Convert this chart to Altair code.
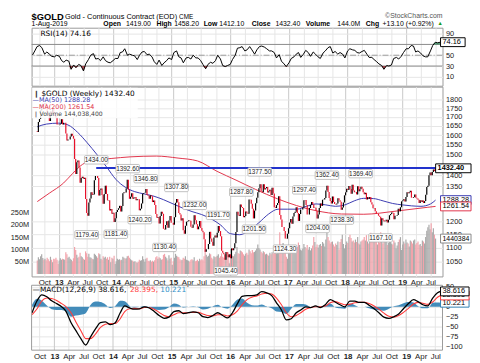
import altair as alt
import pandas as pd
import numpy as np

W = 418
H_RSI, H_PX, H_MACD = 59, 193, 66
GAP = 8          # label strip between price panel and MACD frame
FONT = "Liberation Sans"
LFONT = "DejaVu Sans"

# ---------------- weekly closes (Fridays, from 2012-08-17) ----------------
close_2012 = [1616, 1671, 1688,
              1737, 1770, 1776, 1773,
              1781, 1758, 1724, 1712,
              1677, 1731, 1714, 1752, 1713,
              1705, 1697, 1657, 1656]
close_2013 = [1657, 1662, 1687, 1658,
              1667, 1667, 1609, 1572,
              1577, 1577, 1592, 1607, 1596,
              1581, 1477, 1405, 1462,
              1470, 1436, 1365, 1387, 1393,
              1383, 1388, 1293, 1234,
              1223, 1278, 1295, 1323,
              1310, 1313, 1377, 1396, 1396,
              1387, 1308, 1333, 1339,
              1310, 1273, 1315, 1352,
              1315, 1287, 1288, 1244, 1251,
              1231, 1235, 1198, 1213]
close_2014 = [1238, 1247, 1254, 1264, 1240,
              1263, 1318, 1323, 1321,
              1339, 1379, 1334, 1294,
              1303, 1318, 1294, 1300,
              1302, 1288, 1293, 1292, 1245,
              1252, 1274, 1316, 1319,
              1320, 1337, 1310, 1307,
              1294, 1309, 1305, 1280, 1287,
              1267, 1230, 1215, 1218,
              1192, 1222, 1239, 1231, 1171,
              1168, 1186, 1201, 1175,
              1204, 1222, 1195, 1195]
close_2015 = [1187, 1217, 1277, 1293, 1279,
              1234, 1228, 1204, 1213,
              1165, 1152, 1183, 1199,
              1201, 1205, 1203, 1179,
              1175, 1188, 1225, 1205, 1189,
              1169, 1180, 1202, 1174,
              1163, 1157, 1131, 1085, 1094,
              1094, 1113, 1159, 1134,
              1121, 1107, 1137, 1145,
              1137, 1156, 1182, 1162, 1142,
              1088, 1081, 1076, 1056,
              1084, 1075, 1065, 1076]
close_2016 = [1061, 1097, 1090, 1097, 1116,
              1158, 1239, 1227, 1222,
              1270, 1259, 1255, 1217,
              1222, 1240, 1235, 1231, 1291,
              1290, 1273, 1252, 1212,
              1244, 1275, 1299, 1323,
              1340, 1358, 1327, 1323, 1358,
              1335, 1340, 1346, 1321,
              1327, 1334, 1310, 1343, 1317,
              1258, 1255, 1267, 1276,
              1305, 1226, 1208, 1178,
              1178, 1162, 1134, 1133, 1152]
close_2017 = [1173, 1196, 1210, 1191,
              1220, 1234, 1239, 1258,
              1234, 1202, 1230, 1249, 1249,
              1257, 1288, 1289, 1268,
              1228, 1228, 1255, 1268,
              1280, 1271, 1255, 1256, 1242,
              1212, 1228, 1255, 1274,
              1264, 1290, 1291, 1297,
              1330, 1351, 1324, 1297, 1284,
              1274, 1304, 1280, 1272,
              1270, 1274, 1296, 1288,
              1281, 1248, 1257, 1278, 1309]
close_2018 = [1322, 1338, 1333, 1350,
              1337, 1316, 1356, 1330,
              1323, 1324, 1313, 1349, 1327,
              1336, 1347, 1338, 1323,
              1314, 1320, 1291, 1301,
              1294, 1302, 1279, 1270, 1254,
              1255, 1241, 1231, 1231,
              1223, 1219, 1184, 1213, 1206,
              1200, 1201, 1207, 1196,
              1207, 1225, 1230, 1236,
              1234, 1209, 1223, 1223, 1226,
              1252, 1241, 1258, 1283]
close_2019 = [1287, 1292, 1282, 1302,
              1322, 1318, 1322, 1329,
              1299, 1298, 1302, 1313, 1298,
              1295, 1290, 1276, 1288,
              1281, 1287, 1276, 1284, 1311,
              1346, 1352, 1400, 1413,
              1400, 1415, 1427, 1419,
              1432.4]
first_open = 1620

# ---------------- weekly volume, millions ----------------
vol_2012 = [55, 68, 60,
            72, 80, 65, 58,
            62, 56, 66, 60,
            52, 70, 58, 48, 62,
            60, 66, 58, 42]
vol_2013 = [55, 64, 58, 62,
            60, 58, 88, 80,
            66, 70, 62, 58, 52,
            64, 110, 98, 78,
            66, 70, 86, 72, 68,
            62, 58, 92, 84,
            70, 82, 68, 66,
            62, 60, 82, 78, 72,
            66, 84, 80, 62,
            58, 72, 66, 70,
            62, 68, 58, 70, 48,
            66, 62, 74, 42]
vol_2014 = [52, 62, 58, 60, 56,
            58, 70, 66, 62,
            64, 72, 74, 66,
            60, 56, 54, 50,
            52, 48, 46, 50, 58,
            54, 56, 72, 60,
            50, 62, 66, 54,
            52, 56, 50, 54, 50,
            56, 68, 72, 62,
            68, 64, 58, 60, 78,
            82, 70, 64, 56,
            76, 62, 66, 38]
vol_2015 = [52, 66, 82, 74, 70,
            68, 60, 56, 58,
            66, 62, 72, 58,
            56, 54, 50, 58,
            60, 56, 68, 52, 54,
            58, 52, 62, 56,
            60, 56, 72, 96, 78,
            70, 74, 84, 80,
            66, 60, 72, 68,
            70, 74, 80, 66, 72,
            84, 70, 66, 64,
            82, 78, 88, 44]
vol_2016 = [60, 78, 74, 72, 80,
            90, 110, 84, 82,
            96, 92, 88, 80,
            74, 82, 86, 78, 100,
            92, 84, 98, 88,
            90, 96, 104, 120,
            106, 100, 90, 84, 92,
            88, 80, 82, 78,
            74, 86, 80, 88, 84,
            110, 96, 84, 90,
            108, 170, 120, 110,
            126, 118, 112, 70, 62]
vol_2017 = [88, 98, 104, 102,
            112, 100, 96, 104,
            110, 128, 118, 100, 96,
            104, 122, 110, 104,
            118, 100, 110, 96,
            104, 116, 150, 130, 110,
            120, 108, 118, 122,
            114, 130, 124, 112,
            140, 178, 150, 136, 124,
            130, 132, 120, 112,
            124, 118, 132, 100,
            130, 142, 160, 122, 104]
vol_2018 = [118, 132, 126, 150,
            160, 146, 132, 136,
            128, 140, 130, 150, 124,
            120, 132, 136, 140,
            150, 136, 158, 132,
            124, 140, 168, 146, 136,
            138, 130, 144, 120,
            134, 128, 170, 142, 124,
            138, 130, 140, 118,
            126, 150, 132, 124,
            120, 136, 128, 104, 116,
            130, 140, 150, 98]
vol_2019 = [120, 132, 124, 140,
            128, 124, 112, 136,
            132, 124, 136, 140, 120,
            126, 132, 118, 122,
            114, 136, 132, 124, 150,
            176, 190, 200, 182,
            206, 170, 186, 160,
            144.04]

# ---------------- moving averages ----------------
ma50_dates = ["2012-08-17", "2012-10-15", "2013-01-01", "2013-03-01", "2013-05-01", "2013-07-01",
              "2013-09-01", "2013-11-01", "2014-01-01", "2014-03-01", "2014-05-01", "2014-07-01",
              "2014-09-01", "2014-11-01", "2015-01-01", "2015-03-01", "2015-05-01", "2015-07-01",
              "2015-09-01", "2015-11-01", "2016-01-01", "2016-03-01", "2016-05-01", "2016-07-01",
              "2016-09-01", "2016-11-01", "2017-01-01", "2017-03-01", "2017-05-01", "2017-07-01",
              "2017-09-01", "2017-11-01", "2018-01-01", "2018-03-01", "2018-05-01", "2018-07-01",
              "2018-09-01", "2018-11-01", "2019-01-01", "2019-03-01", "2019-05-01", "2019-07-01",
              "2019-08-02"]
ma50_vals = [1645, 1660, 1665, 1655, 1615, 1560,
             1500, 1440, 1380, 1345, 1325, 1315,
             1305, 1290, 1272, 1255, 1240, 1228,
             1210, 1185, 1152, 1148, 1165, 1195,
             1230, 1250, 1250, 1250, 1262, 1272,
             1268, 1262, 1268, 1285, 1296, 1295,
             1285, 1274, 1268, 1264, 1262, 1272,
             1288.28]
ma200_dates = ["2012-08-17", "2012-11-01", "2013-02-01", "2013-04-01", "2013-06-01", "2013-08-01",
               "2013-12-01", "2014-04-01", "2014-09-15", "2015-02-01", "2015-06-05", "2015-10-08",
               "2016-02-06", "2016-06-10", "2016-10-27", "2017-06-28", "2017-12-10", "2018-05-01",
               "2018-11-23", "2019-06-14", "2019-08-02"]
ma200_vals = [1282, 1318, 1364, 1409, 1451, 1470,
              1480, 1488, 1492, 1482, 1468, 1418,
              1377, 1335, 1294, 1244, 1230, 1229,
              1242, 1258, 1261.54]

# ---------------- RSI(14): 2012-08-17, then 1st & 15th of each month, then 2019-08-02 ----------------
rsi_2012 = [50, 58, 66, 68, 64, 52, 56, 52, 48]
rsi_2013 = [47, 50, 48, 40, 37, 41, 39, 24, 32, 27, 33, 31, 21, 34, 42, 50, 53, 43, 44, 40, 47, 40, 37, 36]
rsi_2014 = [40, 44, 44, 55, 56, 62, 50, 52, 50, 49, 42, 50, 56, 57, 51, 52, 47, 38, 33, 41, 31, 36, 40, 45]
rsi_2015 = [42, 55, 58, 47, 45, 36, 45, 46, 43, 50, 45, 45, 40, 33, 25, 33, 37, 35, 40, 50, 43, 31, 29, 31]
rsi_2016 = [33, 42, 50, 63, 64, 66, 58, 60, 66, 60, 52, 60, 66, 67, 65, 62, 58, 58, 55, 45, 51, 39, 34, 29]
rsi_2017 = [36, 44, 47, 52, 55, 46, 52, 59, 55, 48, 56, 52, 47, 44, 54, 58, 64, 66, 54, 57, 52, 55, 52, 45]
rsi_2018 = [58, 62, 60, 59, 55, 54, 57, 59, 52, 46, 46, 42, 38, 34, 31, 24, 31, 30, 32, 44, 46, 43, 48, 55]
rsi_2019 = [62, 62, 68, 67, 56, 58, 54, 49, 47, 47, 58, 68, 74, 73, 74.16]

# ---------------- MACD(12,26,9): 15th of each month, then 2019-08-02 ----------------
macd_2012 = [-15, 15, 30, 25, 15]
sig_2012 = [-20, -5, 15, 22, 21]
macd_2013 = [8, 0, -12, -40, -60, -80, -96, -75, -55, -40, -38, -45]
sig_2013 = [16, 8, 0, -15, -38, -60, -80, -80, -68, -52, -44, -42]
macd_2014 = [-40, -15, 2, -3, -6, -5, 0, -3, -12, -22, -29, -26]
sig_2014 = [-42, -30, -12, -5, -4, -5, -2, -2, -6, -14, -22, -25]
macd_2015 = [-12, -10, -17, -15, -13, -15, -25, -27, -22, -15, -22, -28]
sig_2015 = [-20, -15, -15, -15, -14, -14, -18, -22, -23, -20, -20, -23]
macd_2016 = [-15, 8, 26, 28, 28, 30, 38, 35, 28, 10, -8, -33]
sig_2016 = [-20, -10, 5, 18, 24, 27, 32, 34, 32, 22, 5, -15]
macd_2017 = [-30, -15, -8, 0, -2, 2, -2, 5, 18, 12, 5, 0]
sig_2017 = [-25, -22, -15, -6, -2, 0, 0, 2, 10, 13, 9, 5]
macd_2018 = [14, 14, 11, 11, 4, -5, -15, -26, -29, -25, -18, -5]
sig_2018 = [6, 10, 11, 11, 8, 2, -6, -16, -24, -26, -22, -14]
macd_2019 = [8, 18, 13, 5, 2, 22, 35, 38.616]
sig_2019 = [-4, 7, 11, 9, 6, 12, 24, 28.395]

# ---------------- annotated highs / lows ----------------
hi_dates = ["2013-08-28", "2014-03-17", "2014-07-10", "2015-01-22", "2015-05-18", "2015-10-15",
            "2016-03-11", "2016-07-06", "2017-04-17", "2017-09-08", "2018-04-11"]
hi_vals = [1434.00, 1392.60, 1346.80, 1307.80, 1232.00, 1191.70, 1287.80, 1377.50, 1297.40, 1362.40, 1369.40]
lo_dates = ["2013-06-28", "2013-12-31", "2014-06-02", "2014-11-07", "2015-12-03", "2016-05-31",
            "2016-12-15", "2017-07-10", "2017-12-12", "2018-08-16"]
lo_vals = [1179.40, 1181.40, 1240.20, 1130.40, 1045.40, 1201.50, 1124.30, 1204.00, 1238.30, 1167.10]
resistance = 1434.00

# ---------------- tables ----------------
closes = close_2012 + close_2013 + close_2014 + close_2015 + close_2016 + close_2017 + close_2018 + close_2019
vols = vol_2012 + vol_2013 + vol_2014 + vol_2015 + vol_2016 + vol_2017 + vol_2018 + vol_2019
n = min(len(closes), len(vols))
px = pd.DataFrame({"date": pd.date_range("2012-08-17", periods=n, freq="7D"),
                   "close": closes[:n], "volume": [v * 1e6 for v in vols[:n]]})
px["open"] = px["close"].shift(1).fillna(first_open)
px["dir"] = np.where(px["close"] >= px["open"], "up", "down")

ma50 = pd.DataFrame({"date": pd.to_datetime(ma50_dates), "v": ma50_vals})
ma200 = pd.DataFrame({"date": pd.to_datetime(ma200_dates), "v": ma200_vals})

rsi_vals = rsi_2012 + rsi_2013 + rsi_2014 + rsi_2015 + rsi_2016 + rsi_2017 + rsi_2018 + rsi_2019
rsi_d = [pd.Timestamp("2012-08-17")] + list(pd.date_range("2012-09-01", "2019-07-15", freq="SMS")) + [pd.Timestamp("2019-08-02")]
m = min(len(rsi_d), len(rsi_vals))
rsi = pd.DataFrame({"date": rsi_d[:m], "rsi": rsi_vals[:m]})

macd_vals = macd_2012 + macd_2013 + macd_2014 + macd_2015 + macd_2016 + macd_2017 + macd_2018 + macd_2019
sig_vals = sig_2012 + sig_2013 + sig_2014 + sig_2015 + sig_2016 + sig_2017 + sig_2018 + sig_2019
macd_d = list(pd.date_range("2012-08-01", "2019-07-01", freq="MS") + pd.Timedelta(days=14)) + [pd.Timestamp("2019-08-02")]
k = min(len(macd_d), len(macd_vals), len(sig_vals))
macd = pd.DataFrame({"date": macd_d[:k], "macd": macd_vals[:k], "signal": sig_vals[:k]})

hi = pd.DataFrame({"date": pd.to_datetime(hi_dates), "v": hi_vals, "t": [f"{v:.2f}" for v in hi_vals]})
lo = pd.DataFrame({"date": pd.to_datetime(lo_dates), "v": lo_vals, "t": [f"{v:.2f}" for v in lo_vals]})
res = pd.DataFrame({"s": [pd.Timestamp("2013-08-28")], "e": [pd.Timestamp("2019-08-15")], "v": [resistance]})

quarters = pd.DataFrame({"d": pd.date_range("2012-10-01", "2019-07-01", freq="QS-JAN")})
quarters["jan"] = quarters["d"].dt.month == 1

# ---------------- scales & axes ----------------
xscale = alt.Scale(domain=[alt.DateTime(year=2012, month=8, date=12),
                           alt.DateTime(year=2019, month=8, date=15)])
qvals = [alt.DateTime(year=y, month=mm, date=1)
         for y in range(2012, 2020) for mm in (1, 4, 7, 10)
         if (2012, 10) <= (y, mm) <= (2019, 7)]
IS_JAN = "month(datum.value) == 0"


def x_axis(show, grid=True):
    return alt.Axis(values=qvals, title=None, grid=grid,
                    gridColor={"condition": {"test": IS_JAN, "value": "#c8c8c8"}, "value": "#e6e6e6"},
                    ticks=False, domain=False, labels=show,
                    labelExpr="month(datum.value) == 0 ? timeFormat(datum.value, '%y') : timeFormat(datum.value, '%b')",
                    labelFont=FONT, labelFontSize=8, labelColor="#222",
                    labelFontWeight={"condition": {"test": IS_JAN, "value": "bold"}, "value": "normal"},
                    labelPadding=2, labelFlush=False, labelOverlap=False)


AX_RSI = x_axis(False)
AX_PX = x_axis(True)
AX_MACD = x_axis(True, grid=False)


def X(ax, field="date"):
    return alt.X(field, type="temporal", scale=xscale, axis=ax)


def yaxis(vals, grid_vals=None, expr=None, orient="right", grid=True):
    kw = dict(orient=orient, values=vals, grid=grid, gridColor="#e6e6e6", ticks=False, domain=False,
              labelFont=FONT, labelFontSize=7.5, labelColor="#222", labelPadding=3, title=None,
              labelOverlap=False, format="d")
    if expr:
        kw["labelExpr"] = expr
    return alt.Axis(**kw)


rsi_scale = alt.Scale(domain=[-6.4, 100.9], nice=False, zero=False)
rsi_axis = yaxis([10, 30, 50, 90])
px_scale = alt.Scale(type="log", domain=[999, 1880], nice=False, zero=False)
px_axis = yaxis([v for v in range(1050, 1801, 50) if v not in (1450, 1300, 1250)])
vol_scale = alt.Scale(domain=[-10e6, 762e6], nice=False, zero=False)
vol_axis = yaxis([50e6, 100e6, 150e6, 200e6, 250e6], expr="format(datum.value / 1e6, 'd') + 'M'",
                 orient="left", grid=False)
# MACD group is GAP px taller; the top GAP px hold the price panel's date labels
macd_scale = alt.Scale(domain=[-109, 54 + GAP / 0.405], nice=False, zero=False)
macd_axis = yaxis([50, 0, -25, -50, -75, -100])


def RY(f):
    return alt.Y(f, type="quantitative", scale=rsi_scale, axis=rsi_axis)


def PY(f):
    return alt.Y(f, type="quantitative", scale=px_scale, axis=px_axis)


def VY(f):
    return alt.Y(f, type="quantitative", scale=vol_scale, axis=vol_axis)


def MY(f):
    return alt.Y(f, type="quantitative", scale=macd_scale, axis=macd_axis)


def txt(s, x, y, size=7.5, color="#000", weight="normal", font=FONT, align="left", baseline="middle"):
    return alt.Chart(pd.DataFrame({"t": [s]})).mark_text(
        align=align, baseline=baseline, font=font, fontSize=size, fontWeight=weight, color=color
    ).encode(x=alt.value(x), y=alt.value(y), text="t:N")


def vbox(val, s, yfn, border, x0, x1, bold=False, size=7.5):
    d = alt.Chart(pd.DataFrame({"v": [val], "t": [s]}))
    r = d.mark_rect(fill="white", stroke=border, strokeWidth=1, yOffset=-4.5, y2Offset=4.5).encode(
        x=alt.value(x0), x2=alt.value(x1), y=yfn("v"), y2="v:Q")
    t = d.mark_text(align="left", baseline="middle", font=FONT, fontSize=size,
                    fontWeight="bold" if bold else "normal", color="#000").encode(
        x=alt.value(x0 + 2), y=yfn("v"), text="t:N")
    return [r, t]


# ---------------- RSI panel (+ header) ----------------
rb = alt.Chart(rsi)
rsi_line = rb.mark_line(color="#000", strokeWidth=1).encode(x=X(AX_RSI), y=RY("rsi"))
rsi_low = rb.transform_calculate(lo="min(datum.rsi, 30)", b="30").mark_area(
    color="#a0282e", opacity=0.8).encode(x=X(AX_RSI), y=RY("lo:Q"), y2="b:Q")
rsi_high = rb.transform_calculate(hi="max(datum.rsi, 70)", b="70").mark_area(
    color="#2e8b57", opacity=0.8).encode(x=X(AX_RSI), y=RY("hi:Q"), y2="b:Q")
lvl = alt.Chart(pd.DataFrame({"l": [30, 70]})).mark_rule(color="#8a8a8a", strokeWidth=1).encode(y=RY("l"))
mid = alt.Chart(pd.DataFrame({"l": [50]})).mark_rule(color="#9a9a9a", strokeWidth=1,
                                                     strokeDash=[6, 2, 1, 2]).encode(y=RY("l"))
HY1, HY2 = -16, -7.5
header = [
    txt("$GOLD", 0, HY1, size=9.5, weight="bold", baseline="top"),
    txt("Gold - Continuous Contract (EOD)", 34, HY1 + 1.5, size=7.5, baseline="top"),
    txt("CME", 150, HY1 + 2.5, size=6.5, baseline="top"),
    txt("\u00a9StockCharts.com", W, HY1, size=7, color="#555", align="right", baseline="top"),
    txt("1-Aug-2019", 0, HY2, size=7, baseline="top"),
    txt("Open", 73, HY2, size=7, weight="bold", baseline="top"),
    txt("1419.00", 96, HY2, size=7, baseline="top"),
    txt("High", 127, HY2, size=7, weight="bold", baseline="top"),
    txt("1458.20", 145, HY2, size=7, baseline="top"),
    txt("Low", 175, HY2, size=7, weight="bold", baseline="top"),
    txt("1412.10", 191, HY2, size=7, baseline="top"),
    txt("Close", 224, HY2, size=7, weight="bold", baseline="top"),
    txt("1432.40", 248, HY2, size=7, baseline="top"),
    txt("Volume", 279, HY2, size=7, weight="bold", baseline="top"),
    txt("144.0M", 311, HY2, size=7, baseline="top"),
    txt("Chg", 340, HY2, size=7, weight="bold", baseline="top"),
    txt("+13.10 (+0.92%)", 357, HY2, size=7, baseline="top"),
    txt("\u25b2", 413, HY2 + 0.5, size=5.5, color="#1a9a1a", baseline="top"),
]
rsi_layers = [lvl, mid, rsi_low, rsi_high, rsi_line,
              txt("RSI(14) 74.16", 9, 6, size=7.5, font=LFONT)] + header + \
             vbox(74.16, "74.16", RY, "#000", W - 2, W + 23)
rsi_panel = alt.layer(*rsi_layers).properties(width=W, height=H_RSI)

# ---------------- price panel ----------------
vol_bars = alt.Chart(px).mark_bar(width=1.2).encode(
    x=X(AX_PX), y=VY("volume"),
    color=alt.condition("datum.dir == 'up'", alt.value("#a9a9a9"), alt.value("#f2a3ab")))
vol_layer = alt.layer(vol_bars, *vbox(144038400, "1440384", VY, "#888", W - 2, W + 29, size=7))

res_rule = alt.Chart(res).mark_rule(color="#2233cc", strokeWidth=2).encode(
    x=X(AX_PX, "s"), x2="e:T", y=PY("v"))
ma200_line = alt.Chart(ma200).mark_line(color="#e0344a", strokeWidth=1, interpolate="monotone").encode(
    x=X(AX_PX), y=PY("v"))
ma50_line = alt.Chart(ma50).mark_line(color="#3a3ab0", strokeWidth=1, interpolate="monotone").encode(
    x=X(AX_PX), y=PY("v"))
candles = alt.Chart(px).mark_rule(strokeWidth=1.2).encode(
    x=X(AX_PX), y=PY("open"), y2="close:Q",
    color=alt.condition("datum.dir == 'up'", alt.value("#000000"), alt.value("#e8102a")))


def ann(df, up):
    b = alt.Chart(df)
    off = (-12.5, -4) if up else (4, 12.5)
    r = b.mark_rect(fill="white", stroke="#b0b0b0", strokeWidth=0.8, cornerRadius=1,
                    xOffset=-12, x2Offset=12, yOffset=off[0], y2Offset=off[1]).encode(
        x=X(AX_PX), x2="date:T", y=PY("v"), y2="v:Q")
    t = b.mark_text(font=FONT, fontSize=6.5, color="#222", dy=(off[0] + off[1]) / 2,
                    baseline="middle").encode(x=X(AX_PX), y=PY("v"), text="t:N")
    return [r, t]


legend_bg = alt.Chart(pd.DataFrame({"a": [0]})).mark_rect(fill="white", opacity=0.85).encode(
    x=alt.value(0.5), x2=alt.value(108), y=alt.value(1), y2=alt.value(32))
legend = [
    legend_bg,
    txt("\u2759", 2, 7, size=7, color="#333", font=LFONT),
    txt("$GOLD (Weekly) 1432.40", 10, 7, size=7.5, font=LFONT),
    txt("\u2014MA(50) 1288.28", 1, 14, size=6.5, color="#3a3ab0", font=LFONT),
    txt("\u2014MA(200) 1261.54", 1, 21, size=6.5, color="#e0344a", font=LFONT),
    txt("\u2759", 2, 28, size=6, color="#888", font=LFONT),
    txt("Volume 144,038,400", 8, 28, size=6.2, color="#444", font=LFONT),
]
px_layer = alt.layer(ma200_line, ma50_line, res_rule, candles,
                     *ann(hi, True), *ann(lo, False), *legend,
                     *vbox(1432.40, "1432.40", PY, "#000", W - 7, W + 29, bold=True),
                     *vbox(1288.28, "1288.28", PY, "#3a3ab0", W - 2, W + 29),
                     *vbox(1261.54, "1261.54", PY, "#e0344a", W - 2, W + 29))
price_panel = alt.layer(vol_layer, px_layer).resolve_scale(y="independent").properties(width=W, height=H_PX)

# ---------------- MACD panel ----------------
HM = H_MACD + GAP
mgrid = alt.Chart(quarters).mark_rule(strokeWidth=1).encode(
    x=X(AX_MACD, "d"), y=alt.value(GAP), y2=alt.value(HM),
    color=alt.condition("datum.jan", alt.value("#c8c8c8"), alt.value("#e6e6e6")))
mframe = alt.Chart(pd.DataFrame({"a": [0]})).mark_rect(fillOpacity=0, stroke="#9a9a9a", strokeWidth=1).encode(
    x=alt.value(0), x2=alt.value(W), y=alt.value(GAP), y2=alt.value(HM))
mb = alt.Chart(macd)
hist = mb.transform_calculate(hist="datum.macd - datum.signal").mark_area(
    color="#2f7fb3", opacity=0.9, interpolate="monotone").encode(x=X(AX_MACD), y=MY("hist"), y2=alt.datum(0))
sig_line = mb.mark_line(color="#ff3b3b", strokeWidth=1.1, interpolate="monotone").encode(x=X(AX_MACD), y=MY("signal"))
macd_line = mb.mark_line(color="#000", strokeWidth=1.3, interpolate="monotone").encode(x=X(AX_MACD), y=MY("macd"))
macd_layers = [mgrid, hist, sig_line, macd_line, mframe,
               txt("\u2014MACD(12,26,9) 38.616,", 1, GAP + 5, size=7.5, font=LFONT),
               txt("28.395,", 100, GAP + 5, size=7.5, color="#ff3b3b", font=LFONT),
               txt("10.221", 131, GAP + 5, size=7.5, color="#2f8fc8", font=LFONT)] + \
              vbox(10.221, "10.221", MY, "#2f7fb3", W - 2, W + 27) + \
              vbox(28.395, "28.395", MY, "#ff3b3b", W - 2, W + 27) + \
              vbox(38.616, "38.616", MY, "#000", W - 2, W + 27)
macd_panel = alt.layer(*macd_layers).properties(width=W, height=HM, view=alt.ViewBackground(stroke=None))

chart = alt.vconcat(rsi_panel, price_panel, macd_panel, spacing=1, bounds="flush").properties(
    padding={"left": 1, "top": 0, "right": 0, "bottom": 0}, background="white"
).configure_view(stroke="#9a9a9a", strokeWidth=1)

chart.save("out.html", embed_options={"renderer": "svg", "actions": False})
